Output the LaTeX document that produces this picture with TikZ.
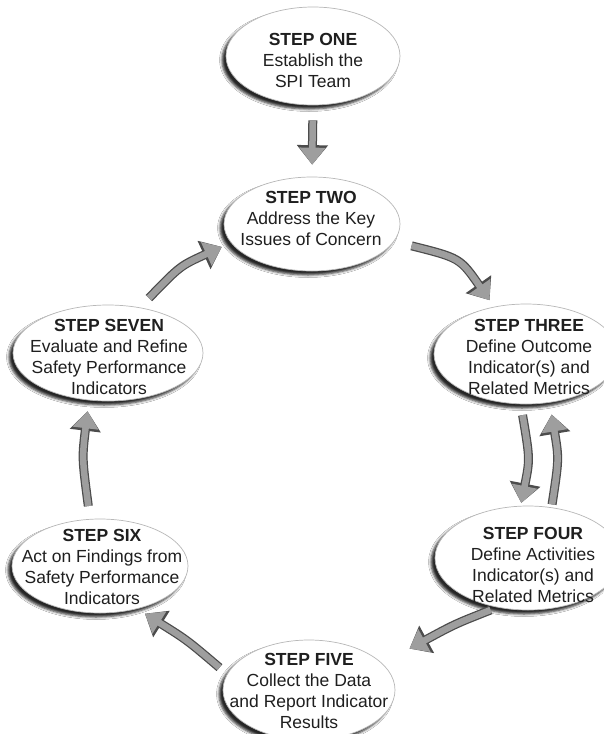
\documentclass[tikz,border=0pt]{standalone}
\usepackage{fontspec}
\setmainfont{Liberation Sans}
\usetikzlibrary{shapes.geometric,arrows.meta,shadows.blur}
\begin{document}
\begin{tikzpicture}[x=1pt,y=-1pt,
  ell/.style={ellipse, draw=black!28, line width=0.7pt, fill=white, inner sep=0pt,
    blur shadow={shadow xshift=-4pt, shadow yshift=-4pt, shadow blur radius=2.5pt, shadow opacity=85}},
  txt/.style={align=center, inner sep=0pt, text=black!88, font=\fontsize{17.5}{21}\selectfont},
  arr/.style={line width=6.5pt, draw=black!38, -{Triangle[length=17pt,width=25pt]},
    preaction={draw=black!70, line width=9pt, -{Triangle[length=19.5pt,width=30pt]}}}
]
\useasboundingbox (0,0) rectangle (603,734);
\fill[white] (0,0) rectangle (603,734);

\node[ell, minimum width=174pt, minimum height=98pt] (one) at (313,56) {};
\node[ell, minimum width=176pt, minimum height=94pt] (two) at (312,224) {};
\node[ell, minimum width=184pt, minimum height=100pt] (three) at (526,354) {};
\node[ell, minimum width=186pt, minimum height=104pt] (four) at (528,558) {};
\node[ell, minimum width=172pt, minimum height=100pt] (five) at (309,690) {};
\node[ell, minimum width=176pt, minimum height=94pt] (six) at (100,566) {};
\node[ell, minimum width=190pt, minimum height=96pt] (seven) at (108,353) {};

\draw[arr, shorten <=15pt, shorten >=12pt] (one.south) -- (two.north);
\draw[arr, shorten <=18pt, shorten >=8pt] (two.-12) .. controls (460,258) .. (three.124);
\draw[arr, shorten <=11pt, shorten >=3pt] (three.-96) .. controls (530,459) .. (four.98);
\draw[arr, shorten <=3pt, shorten >=12pt] (four.65) .. controls (559,459) .. (three.-64);
\draw[arr, shorten <=7pt, shorten >=31pt] (four.-122) .. controls (455,624) .. (five.20);
\draw[arr, shorten <=10pt, shorten >=9pt] (five.169) .. controls (187,640) .. (six.-49);
\draw[arr, shorten <=13pt, shorten >=11pt] (six.102) .. controls (82,458) .. (seven.-112);
\draw[arr, shorten <=13pt, shorten >=10pt] (seven.55) .. controls (180,266) .. (two.193);

\node[txt] (one-t) at (313,60) {\textbf{STEP ONE}\\Establish the\\SPI Team};
\node[txt] (two-t) at (311,218) {\textbf{STEP TWO}\\Address the Key\\Issues of Concern};
\node[txt] (three-t) at (529,357) {\textbf{STEP THREE}\\Define Outcome\\Indicator(s) and\\Related Metrics};
\node[txt] (four-t) at (533,565) {\textbf{STEP FOUR}\\Define Activities\\Indicator(s) and\\Related Metrics};
\node[txt] (five-t) at (309,691) {\textbf{STEP FIVE}\\Collect the Data\\and Report Indicator\\Results};
\node[txt] (six-t) at (102,567) {\textbf{STEP SIX}\\Act on Findings from\\Safety Performance\\Indicators};
\node[txt] (seven-t) at (109,357) {\textbf{STEP SEVEN}\\Evaluate and Refine\\Safety Performance\\Indicators};
\end{tikzpicture}
\end{document}
